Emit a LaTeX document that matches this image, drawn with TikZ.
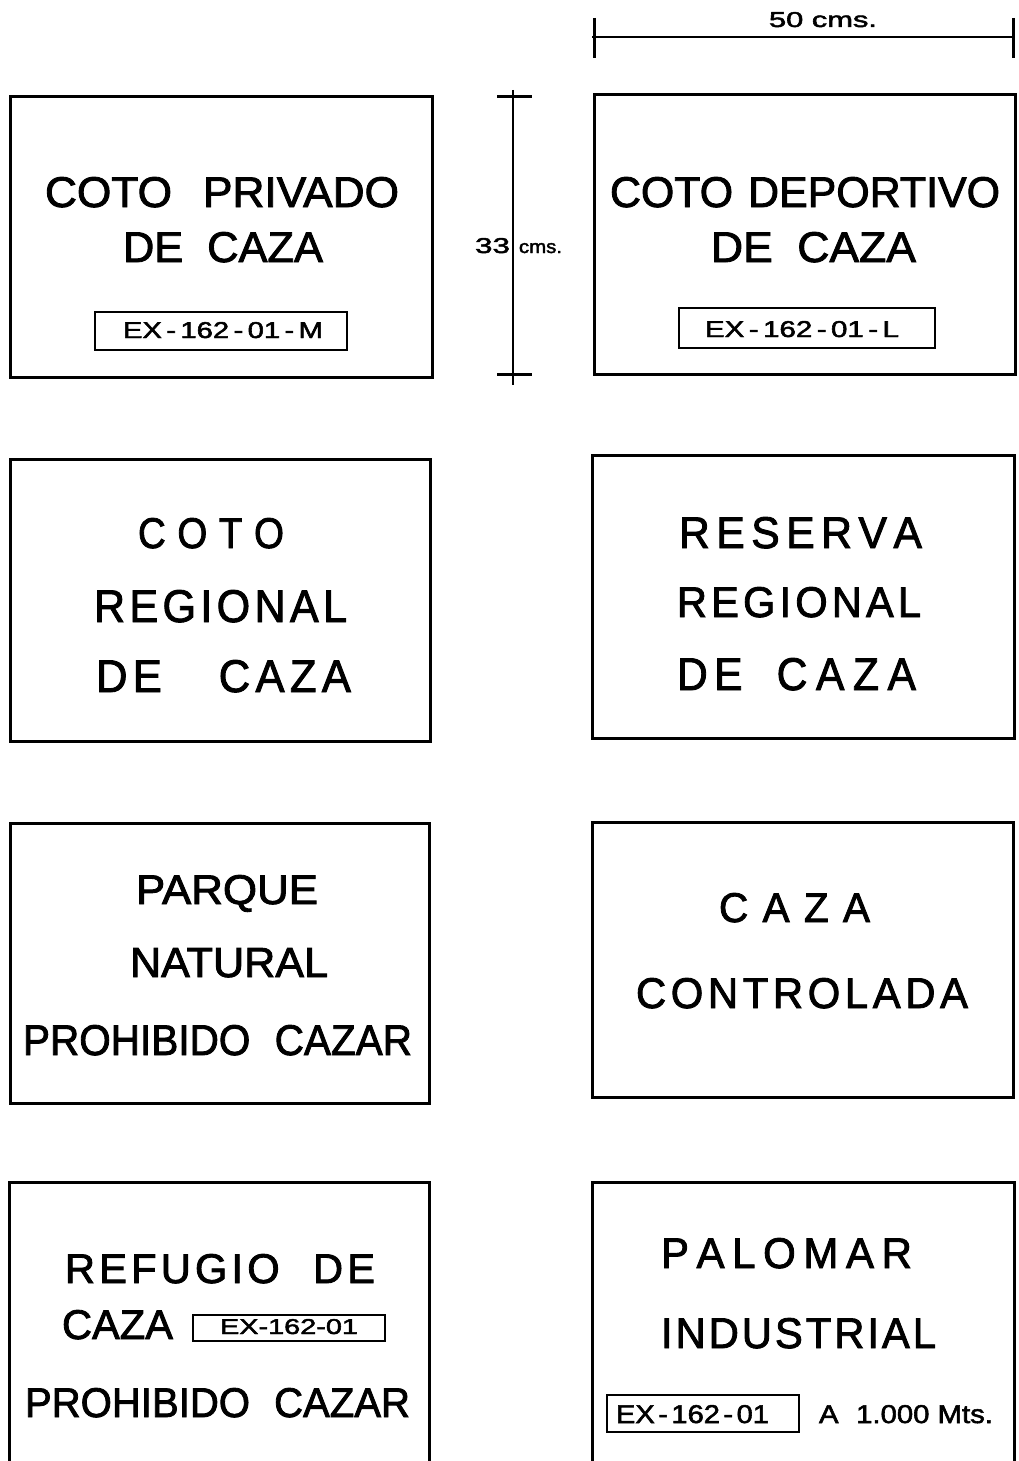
\documentclass[tikz,border=0pt]{standalone}
\usepackage{graphicx}
\usepackage{fontspec}
\setsansfont{Liberation Sans}[FakeBold=2]
\newcommand\fitx[3]{\resizebox{#1pt}{#2pt}{#3}}
\newcommand\gp[1]{\hspace{#1em}}
\tikzset{
  sign/.style={draw, line width=3pt, line join=miter},
  plate/.style={draw, line width=2.4pt},
  txt/.style={inner sep=0pt, outer sep=0pt, anchor=base, font=\sffamily},
  dimline/.style={draw, line width=2.4pt},
  dimtick/.style={draw, line width=3pt}
}
\begin{document}
\begin{tikzpicture}[x=1pt,y=-1pt]
\useasboundingbox (0,0) rectangle (1018,1461);

% ---------- dimensions ----------
\coordinate (h1) at (592,37);
\coordinate (h2) at (1015,37);
\path[dimline] (h1) -- (h2);
\path[dimtick] (594,18) -- (594,58);
\path[dimtick] (1013,18) -- (1013,58);
\node[txt] (d50) at (823,27) {\fitx{108}{15}{50 cms.}};

\coordinate (v1) at (513,90);
\coordinate (v2) at (513,385);
\path[dimline] (v1) -- (v2);
\path[dimtick] (497,97) -- (532,97);
\path[dimtick] (497,374) -- (532,374);
\node[txt] (d33) at (492.5,253) {\fitx{35}{15}{33}};
\node[txt] (dcm) at (540.5,253) {\fitx{43}{10}{cms.}};

% ---------- row 1 ----------
\path[sign] (10,97) rectangle (432,377);
\node[txt] (t1) at (222,207) {\fitx{354}{30}{COTO\gp{.7}PRIVADO}};
\node[txt] (t2) at (223,262) {\fitx{200}{30}{DE\gp{.55}CAZA}};
\path[plate] (95,312) rectangle (347,350);
\node[txt] (t3) at (223,338) {\fitx{200}{16}{EX\gp{.15}-\gp{.15}162\gp{.15}-\gp{.15}01\gp{.15}-\gp{.15}M}};

\path[sign] (594,95) rectangle (1015,374);
\node[txt] (t4) at (805,207) {\fitx{390}{30}{COTO\gp{.35}DEPORTIVO}};
\node[txt] (t5) at (813.5,262) {\fitx{205}{30}{DE\gp{.55}CAZA}};
\path[plate] (679,308) rectangle (935,348);
\node[txt] (t6) at (802,337) {\fitx{194}{16}{EX\gp{.15}-\gp{.15}162\gp{.15}-\gp{.15}01\gp{.15}-\gp{.15}L}};

% ---------- row 2 ----------
\path[sign] (10,459) rectangle (430,741);
\node[txt] (t7) at (211,548) {\fitx{146}{30}{C\gp{.3}O\gp{.3}T\gp{.3}O}};
\node[txt] (t8) at (220.5,622) {\fitx{253}{32}{R\gp{.1}E\gp{.1}G\gp{.1}I\gp{.1}O\gp{.1}N\gp{.1}A\gp{.1}L}};
\node[txt] (t9) at (223.5,692) {\fitx{255}{32}{D\gp{.12}E\gp{1.3}C\gp{.12}A\gp{.12}Z\gp{.12}A}};

\path[sign] (592,455) rectangle (1014,738);
\node[txt] (t10) at (800.5,548) {\fitx{243}{31}{R\gp{.15}E\gp{.15}S\gp{.15}E\gp{.15}R\gp{.15}V\gp{.15}A}};
\node[txt] (t11) at (799,617) {\fitx{244}{30}{R\gp{.1}E\gp{.1}G\gp{.1}I\gp{.1}O\gp{.1}N\gp{.1}A\gp{.1}L}};
\node[txt] (t12) at (796.5,690) {\fitx{239}{32}{D\gp{.15}E\gp{.8}C\gp{.2}A\gp{.2}Z\gp{.2}A}};

% ---------- row 3 ----------
\path[sign] (10,823) rectangle (429,1103);
\node[txt] (t13) at (227,904) {\fitx{182}{29}{PARQUE}};
\node[txt] (t14) at (229,977) {\fitx{198}{29}{NATURAL}};
\node[txt] (t15) at (217.5,1055) {\fitx{389}{30}{PROHIBIDO\gp{.6}CAZAR}};

\path[sign] (592,822) rectangle (1013,1097);
\node[txt] (t16) at (794.5,922) {\fitx{151}{29}{C\gp{.35}A\gp{.35}Z\gp{.35}A}};
\node[txt] (t17) at (802,1008) {\fitx{332}{30}{C\gp{.11}O\gp{.11}N\gp{.11}T\gp{.11}R\gp{.11}O\gp{.11}L\gp{.11}A\gp{.11}D\gp{.11}A}};

% ---------- row 4 ----------
\path[sign] (9,1461) -- (9,1182) -- (429,1182) -- (429,1461);
\node[txt] (t18) at (220,1283) {\fitx{310}{29}{R\gp{.1}E\gp{.1}F\gp{.1}U\gp{.1}G\gp{.1}I\gp{.1}O\gp{.8}D\gp{.1}E}};
\node[txt] (t19) at (117.5,1339) {\fitx{111}{29}{CAZA}};
\path[plate] (193,1315) rectangle (385,1341);
\node[txt] (t20) at (289,1334) {\fitx{138}{15}{EX-162-01}};
\node[txt] (t21) at (217.5,1417) {\fitx{385}{29}{PROHIBIDO\gp{.6}CAZAR}};

\path[sign] (592,1461) -- (592,1182) -- (1014,1182) -- (1014,1461);
\node[txt] (t22) at (786.5,1268) {\fitx{251}{30}{P\gp{.18}A\gp{.18}L\gp{.18}O\gp{.18}M\gp{.18}A\gp{.18}R}};
\node[txt] (t23) at (798.5,1348) {\fitx{275}{30}{I\gp{.07}N\gp{.07}D\gp{.07}U\gp{.07}S\gp{.07}T\gp{.07}R\gp{.07}I\gp{.07}A\gp{.07}L}};
\path[plate] (607,1395) rectangle (799,1432);
\node[txt] (t24) at (692.5,1423) {\fitx{153}{18}{EX\gp{.12}-\gp{.12}162\gp{.12}-\gp{.12}01}};
\node[txt] (t25) at (906,1423) {\fitx{174}{18}{A\gp{.6}1.000 Mts.}};
\end{tikzpicture}
\end{document}
